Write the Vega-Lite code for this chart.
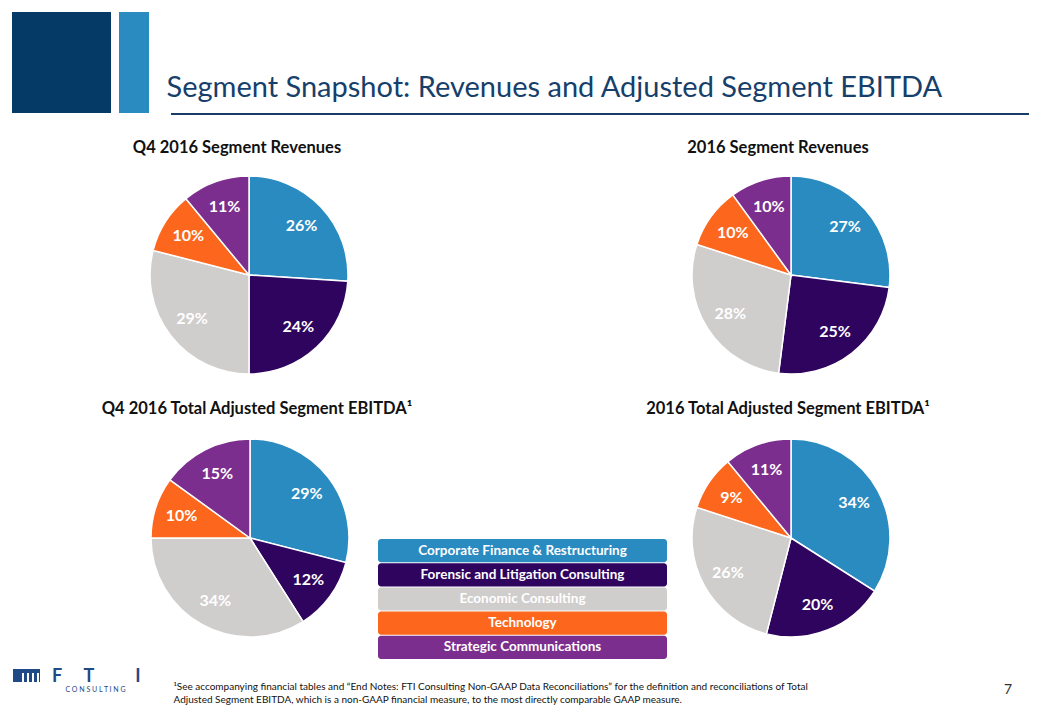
{
  "$schema": "https://vega.github.io/schema/vega-lite/v6.json",
  "background": "white",
  "padding": {"left": 12, "top": 12, "right": 0, "bottom": 0},
  "config": {
    "view": {"stroke": null},
    "font": "Lato"
  },
  "datasets": {
    "none": [],
    "segments": [
      {"segment": "Corporate Finance & Restructuring"},
      {"segment": "Forensic and Litigation Consulting"},
      {"segment": "Economic Consulting"},
      {"segment": "Technology"},
      {"segment": "Strategic Communications"}
    ],
    "pies": [
      {"chart": "q4rev", "segment": "Corporate Finance & Restructuring", "pct": 0.26, "rank": 1},
      {"chart": "q4rev", "segment": "Forensic and Litigation Consulting", "pct": 0.24, "rank": 2},
      {"chart": "q4rev", "segment": "Economic Consulting", "pct": 0.29, "rank": 3},
      {"chart": "q4rev", "segment": "Technology", "pct": 0.10, "rank": 4},
      {"chart": "q4rev", "segment": "Strategic Communications", "pct": 0.11, "rank": 5},
      {"chart": "rev", "segment": "Corporate Finance & Restructuring", "pct": 0.27, "rank": 1},
      {"chart": "rev", "segment": "Forensic and Litigation Consulting", "pct": 0.25, "rank": 2},
      {"chart": "rev", "segment": "Economic Consulting", "pct": 0.28, "rank": 3},
      {"chart": "rev", "segment": "Technology", "pct": 0.10, "rank": 4},
      {"chart": "rev", "segment": "Strategic Communications", "pct": 0.10, "rank": 5},
      {"chart": "q4eb", "segment": "Corporate Finance & Restructuring", "pct": 0.29, "rank": 1},
      {"chart": "q4eb", "segment": "Forensic and Litigation Consulting", "pct": 0.12, "rank": 2},
      {"chart": "q4eb", "segment": "Economic Consulting", "pct": 0.34, "rank": 3},
      {"chart": "q4eb", "segment": "Technology", "pct": 0.10, "rank": 4},
      {"chart": "q4eb", "segment": "Strategic Communications", "pct": 0.15, "rank": 5},
      {"chart": "eb", "segment": "Corporate Finance & Restructuring", "pct": 0.34, "rank": 1},
      {"chart": "eb", "segment": "Forensic and Litigation Consulting", "pct": 0.20, "rank": 2},
      {"chart": "eb", "segment": "Economic Consulting", "pct": 0.26, "rank": 3},
      {"chart": "eb", "segment": "Technology", "pct": 0.09, "rank": 4},
      {"chart": "eb", "segment": "Strategic Communications", "pct": 0.11, "rank": 5}
    ]
  },
  "spacing": 0,
  "vconcat": [
    {
      "spacing": 0,
      "hconcat": [
        {"width": 99, "height": 101, "data": {"name": "none"}, "mark": "rect", "view": {"fill": "#063a66", "stroke": null}},
        {"width": 8, "height": 1, "data": {"name": "none"}, "mark": "rect"},
        {"width": 30, "height": 101, "data": {"name": "none"}, "mark": "rect", "view": {"fill": "#2a8bc1", "stroke": null}},
        {"width": 17, "height": 1, "data": {"name": "none"}, "mark": "rect"},
        {
          "spacing": 0,
          "vconcat": [
            {"width": 1, "height": 62, "data": {"name": "none"}, "mark": "rect"},
            {"width": 1, "height": 2,
             "data": {"values": [{"label": "Segment Snapshot: Revenues and Adjusted Segment EBITDA"}]},
             "mark": {"type": "text", "align": "left", "baseline": "alphabetic", "fontSize": 29, "font": "Lato", "color": "#163f6b"},
             "encoding": {"text": {"field": "label", "type": "nominal"}}}
          ]
        }
      ]
    },
    {
      "spacing": 0,
      "hconcat": [
        {"width": 159, "height": 1, "data": {"name": "none"}, "mark": "rect"},
        {"width": 858, "height": 2, "data": {"name": "none"}, "mark": "rect", "view": {"fill": "#173d66", "stroke": null}}
      ]
    },
    {"width": 1, "height": 22, "data": {"name": "none"}, "mark": "rect"},
    {
      "spacing": 0,
      "hconcat": [
        {"width": 450, "height": 32,
         "data": {"values": [{"label": "Q4 2016 Segment Revenues"}]},
         "mark": {"type": "text", "align": "center", "baseline": "alphabetic", "fontSize": 16.5, "fontWeight": "bold", "color": "#111111"},
         "encoding": {"text": {"field": "label", "type": "nominal"}}},
        {"width": 138, "height": 1, "data": {"name": "none"}, "mark": "rect"},
        {"width": 356, "height": 32,
         "data": {"values": [{"label": "2016 Segment Revenues"}]},
         "mark": {"type": "text", "align": "center", "baseline": "alphabetic", "fontSize": 16.5, "fontWeight": "bold", "color": "#111111"},
         "encoding": {"text": {"field": "label", "type": "nominal"}}}
      ]
    },
    {"width": 1, "height": 3, "data": {"name": "none"}, "mark": "rect"},
    {
      "spacing": 0,
      "hconcat": [
        {"width": 133.5, "height": 1, "data": {"name": "none"}, "mark": "rect"},
        {
          "width": 206, "height": 206,
          "data": {"name": "pies"},
          "transform": [{"filter": "datum.chart === 'q4rev'"}],
          "encoding": {
            "theta": {"field": "pct", "type": "quantitative", "stack": true},
            "order": {"field": "rank", "type": "quantitative"},
            "detail": {"field": "segment", "type": "nominal"},
            "color": {"field": "segment", "type": "nominal", "legend": null,
              "scale": {"domain": ["Corporate Finance & Restructuring", "Forensic and Litigation Consulting", "Economic Consulting", "Technology", "Strategic Communications"],
                        "range": ["#2a8bc1", "#2e045f", "#d0cdcd", "#fc671d", "#7b2e8e"]}}
          },
          "layer": [
            {"mark": {"type": "arc", "radius": 99, "stroke": "white", "strokeWidth": 1.5}},
            {"mark": {"type": "text", "radius": 72, "fontSize": 16, "fontWeight": "bold"},
             "encoding": {"color": {"value": "white"}, "text": {"field": "pct", "type": "quantitative", "format": ".0%"}}}
          ]
        },
        {"width": 335.5, "height": 1, "data": {"name": "none"}, "mark": "rect"},
        {
          "width": 206, "height": 206,
          "data": {"name": "pies"},
          "transform": [{"filter": "datum.chart === 'rev'"}],
          "encoding": {
            "theta": {"field": "pct", "type": "quantitative", "stack": true},
            "order": {"field": "rank", "type": "quantitative"},
            "detail": {"field": "segment", "type": "nominal"},
            "color": {"field": "segment", "type": "nominal", "legend": null,
              "scale": {"domain": ["Corporate Finance & Restructuring", "Forensic and Litigation Consulting", "Economic Consulting", "Technology", "Strategic Communications"],
                        "range": ["#2a8bc1", "#2e045f", "#d0cdcd", "#fc671d", "#7b2e8e"]}}
          },
          "layer": [
            {"mark": {"type": "arc", "radius": 99, "stroke": "white", "strokeWidth": 1.5}},
            {"mark": {"type": "text", "radius": 72, "fontSize": 16, "fontWeight": "bold"},
             "encoding": {"color": {"value": "white"}, "text": {"field": "pct", "type": "quantitative", "format": ".0%"}}}
          ]
        }
      ]
    },
    {"width": 1, "height": 20, "data": {"name": "none"}, "mark": "rect"},
    {
      "spacing": 0,
      "hconcat": [
        {"width": 490, "height": 32,
         "data": {"values": [{"label": "Q4 2016 Total Adjusted Segment EBITDA¹"}]},
         "mark": {"type": "text", "align": "center", "baseline": "alphabetic", "fontSize": 16.5, "fontWeight": "bold", "color": "#111111"},
         "encoding": {"text": {"field": "label", "type": "nominal"}}},
        {"width": 86, "height": 1, "data": {"name": "none"}, "mark": "rect"},
        {"width": 400, "height": 32,
         "data": {"values": [{"label": "2016  Total Adjusted Segment EBITDA¹"}]},
         "mark": {"type": "text", "align": "center", "baseline": "alphabetic", "fontSize": 16.5, "fontWeight": "bold", "color": "#111111"},
         "encoding": {"text": {"field": "label", "type": "nominal"}}}
      ]
    },
    {"width": 1, "height": 4.5, "data": {"name": "none"}, "mark": "rect"},
    {
      "spacing": 0,
      "hconcat": [
        {"width": 134.5, "height": 1, "data": {"name": "none"}, "mark": "rect"},
        {
          "width": 206, "height": 206,
          "data": {"name": "pies"},
          "transform": [{"filter": "datum.chart === 'q4eb'"}],
          "encoding": {
            "theta": {"field": "pct", "type": "quantitative", "stack": true},
            "order": {"field": "rank", "type": "quantitative"},
            "detail": {"field": "segment", "type": "nominal"},
            "color": {"field": "segment", "type": "nominal", "legend": null,
              "scale": {"domain": ["Corporate Finance & Restructuring", "Forensic and Litigation Consulting", "Economic Consulting", "Technology", "Strategic Communications"],
                        "range": ["#2a8bc1", "#2e045f", "#d0cdcd", "#fc671d", "#7b2e8e"]}}
          },
          "layer": [
            {"mark": {"type": "arc", "radius": 99, "stroke": "white", "strokeWidth": 1.5}},
            {"mark": {"type": "text", "radius": 72, "fontSize": 16, "fontWeight": "bold"},
             "encoding": {"color": {"value": "white"}, "text": {"field": "pct", "type": "quantitative", "format": ".0%"}}}
          ]
        },
        {"width": 24.5, "height": 1, "data": {"name": "none"}, "mark": "rect"},
        {
          "spacing": 0,
          "vconcat": [
            {"width": 289, "height": 103.5, "data": {"name": "none"}, "mark": "rect"},
            {
              "width": 289, "height": 120,
              "data": {"name": "segments"},
              "encoding": {
                "y": {"field": "segment", "type": "nominal", "sort": null, "axis": null, "scale": {"paddingInner": 0.04, "paddingOuter": 0}}
              },
              "layer": [
                {"mark": {"type": "rect", "cornerRadius": 3},
                 "encoding": {"color": {"field": "segment", "type": "nominal", "legend": null,
                   "scale": {"domain": ["Corporate Finance & Restructuring", "Forensic and Litigation Consulting", "Economic Consulting", "Technology", "Strategic Communications"],
                             "range": ["#2a8bc1", "#2e045f", "#d0cdcd", "#fc671d", "#7b2e8e"]}}}},
                {"mark": {"type": "text", "fontSize": 13.5, "fontWeight": "bold", "color": "white"},
                 "encoding": {"text": {"field": "segment", "type": "nominal"}}}
              ]
            }
          ]
        },
        {"width": 20.5, "height": 1, "data": {"name": "none"}, "mark": "rect"},
        {
          "width": 206, "height": 206,
          "data": {"name": "pies"},
          "transform": [{"filter": "datum.chart === 'eb'"}],
          "encoding": {
            "theta": {"field": "pct", "type": "quantitative", "stack": true},
            "order": {"field": "rank", "type": "quantitative"},
            "detail": {"field": "segment", "type": "nominal"},
            "color": {"field": "segment", "type": "nominal", "legend": null,
              "scale": {"domain": ["Corporate Finance & Restructuring", "Forensic and Litigation Consulting", "Economic Consulting", "Technology", "Strategic Communications"],
                        "range": ["#2a8bc1", "#2e045f", "#d0cdcd", "#fc671d", "#7b2e8e"]}}
          },
          "layer": [
            {"mark": {"type": "arc", "radius": 99, "stroke": "white", "strokeWidth": 1.5}},
            {"mark": {"type": "text", "radius": 72, "fontSize": 16, "fontWeight": "bold"},
             "encoding": {"color": {"value": "white"}, "text": {"field": "pct", "type": "quantitative", "format": ".0%"}}}
          ]
        }
      ]
    },
    {
      "spacing": 0,
      "hconcat": [
        {"width": 1, "height": 1, "data": {"name": "none"}, "mark": "rect"},
        {
          "spacing": 0,
          "vconcat": [
            {"width": 27, "height": 10, "data": {"name": "none"}, "mark": "rect"},
            {"width": 27, "height": 4, "data": {"name": "none"}, "mark": "rect", "view": {"fill": "#1f4a85", "stroke": null}},
            {
              "spacing": 2,
              "hconcat": [
                {"width": 9, "height": 9, "data": {"name": "none"}, "mark": "rect", "view": {"fill": "#1f4a85", "stroke": null}},
                {"width": 3, "height": 9, "data": {"name": "none"}, "mark": "rect", "view": {"fill": "#1f4a85", "stroke": null}},
                {"width": 3, "height": 9, "data": {"name": "none"}, "mark": "rect", "view": {"fill": "#1f4a85", "stroke": null}},
                {"width": 3, "height": 9, "data": {"name": "none"}, "mark": "rect", "view": {"fill": "#1f4a85", "stroke": null}},
                {"width": 1, "height": 9, "data": {"name": "none"}, "mark": "rect", "view": {"fill": "#1f4a85", "stroke": null}}
              ]
            }
          ]
        },
        {"width": 7, "height": 1, "data": {"name": "none"}, "mark": "rect"},
        {
          "spacing": 0,
          "vconcat": [
            {"width": 1, "height": 9, "data": {"name": "none"}, "mark": "rect"},
            {
              "spacing": 0,
              "hconcat": [
                {"width": 20, "height": 2, "data": {"values": [{"label": "F"}]},
                 "mark": {"type": "text", "align": "center", "baseline": "alphabetic", "fontSize": 18, "fontWeight": "bold", "color": "#1f4a85"},
                 "encoding": {"text": {"field": "label", "type": "nominal"}}},
                {"width": 12, "height": 1, "data": {"name": "none"}, "mark": "rect"},
                {"width": 20, "height": 2, "data": {"values": [{"label": "T"}]},
                 "mark": {"type": "text", "align": "center", "baseline": "alphabetic", "fontSize": 18, "fontWeight": "bold", "color": "#1f4a85"},
                 "encoding": {"text": {"field": "label", "type": "nominal"}}},
                {"width": 28.5, "height": 1, "data": {"name": "none"}, "mark": "rect"},
                {"width": 20, "height": 2, "data": {"values": [{"label": "I"}]},
                 "mark": {"type": "text", "align": "center", "baseline": "alphabetic", "fontSize": 18, "fontWeight": "bold", "color": "#1f4a85"},
                 "encoding": {"text": {"field": "label", "type": "nominal"}}}
              ]
            },
            {"width": 97, "height": 2, "data": {"values": [{"label": "C  O  N  S  U  L  T  I  N  G"}]},
             "mark": {"type": "text", "align": "center", "baseline": "alphabetic", "fontSize": 7, "color": "#1f4a85"},
             "encoding": {"text": {"field": "label", "type": "nominal"}}}
          ]
        },
        {"width": 24.5, "height": 1, "data": {"name": "none"}, "mark": "rect"},
        {
          "spacing": 0,
          "vconcat": [
            {"width": 1, "height": 23, "data": {"name": "none"}, "mark": "rect"},
            {"width": 1, "height": 2,
             "data": {"values": [{"label": "¹See accompanying financial tables and “End Notes: FTI Consulting Non-GAAP Data Reconciliations” for the definition and reconciliations of Total"}]},
             "mark": {"type": "text", "align": "left", "baseline": "alphabetic", "fontSize": 10, "color": "#111111"},
             "encoding": {"text": {"field": "label", "type": "nominal"}}},
            {"width": 1, "height": 3, "data": {"name": "none"}, "mark": "rect"},
            {"width": 1, "height": 2,
             "data": {"values": [{"label": "Adjusted Segment EBITDA, which is a non-GAAP financial measure, to the most directly comparable GAAP measure."}]},
             "mark": {"type": "text", "align": "left", "baseline": "alphabetic", "fontSize": 10, "color": "#111111"},
             "encoding": {"text": {"field": "label", "type": "nominal"}}}
          ]
        },
        {"width": 190.5, "height": 1, "data": {"name": "none"}, "mark": "rect"},
        {
          "spacing": 0,
          "vconcat": [
            {"width": 1, "height": 24, "data": {"name": "none"}, "mark": "rect"},
            {"width": 16, "height": 2, "data": {"values": [{"label": "7"}]},
             "mark": {"type": "text", "align": "center", "baseline": "alphabetic", "fontSize": 14, "color": "#333333"},
             "encoding": {"text": {"field": "label", "type": "nominal"}}}
          ]
        }
      ]
    }
  ]
}
